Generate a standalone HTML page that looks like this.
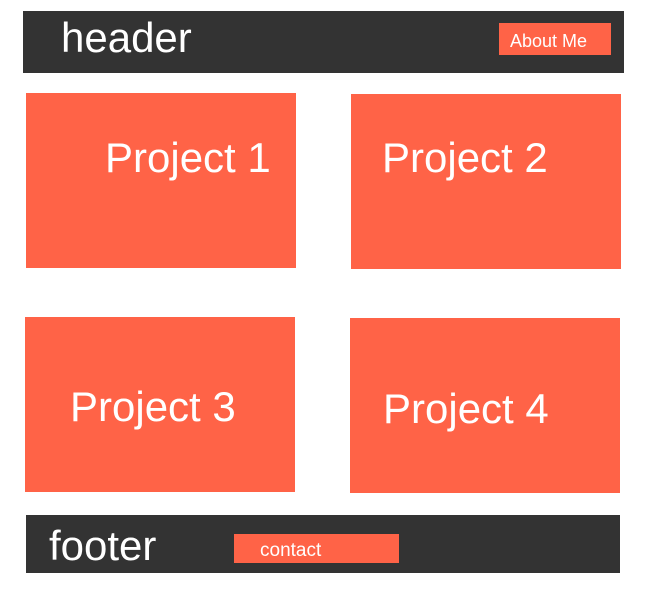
<!DOCTYPE html>
<html><head><meta charset="utf-8"><style>
body{margin:0;width:652px;height:596px;background:#fff;position:relative;overflow:hidden;font-family:"Liberation Sans",sans-serif;color:#fff}
div{position:absolute}
.d{background:#333}
.o{background:#ff6347}
.t{line-height:1;white-space:nowrap}
</style></head><body>
<div class="d" style="left:23px;top:11px;width:601px;height:62px"></div>
<div class="t" style="left:61px;top:17px;font-size:42px">header</div>
<div class="o" style="left:499px;top:23px;width:112px;height:32px"></div>
<div class="t" style="left:510px;top:32px;font-size:18px">About Me</div>
<div class="o" style="left:26px;top:93px;width:270px;height:175px"></div>
<div class="t" style="left:105px;top:137px;font-size:42px">Project 1</div>
<div class="o" style="left:351px;top:94px;width:270px;height:175px"></div>
<div class="t" style="left:382px;top:137px;font-size:42px">Project 2</div>
<div class="o" style="left:25px;top:317px;width:270px;height:175px"></div>
<div class="t" style="left:70px;top:386px;font-size:42px">Project 3</div>
<div class="o" style="left:350px;top:318px;width:270px;height:175px"></div>
<div class="t" style="left:383px;top:388px;font-size:42px">Project 4</div>
<div class="d" style="left:26px;top:515px;width:594px;height:58px"></div>
<div class="t" style="left:49px;top:525px;font-size:42px">footer</div>
<div class="o" style="left:234px;top:534px;width:165px;height:29px"></div>
<div class="t" style="left:260px;top:541px;font-size:19px">contact</div>
</body></html>
